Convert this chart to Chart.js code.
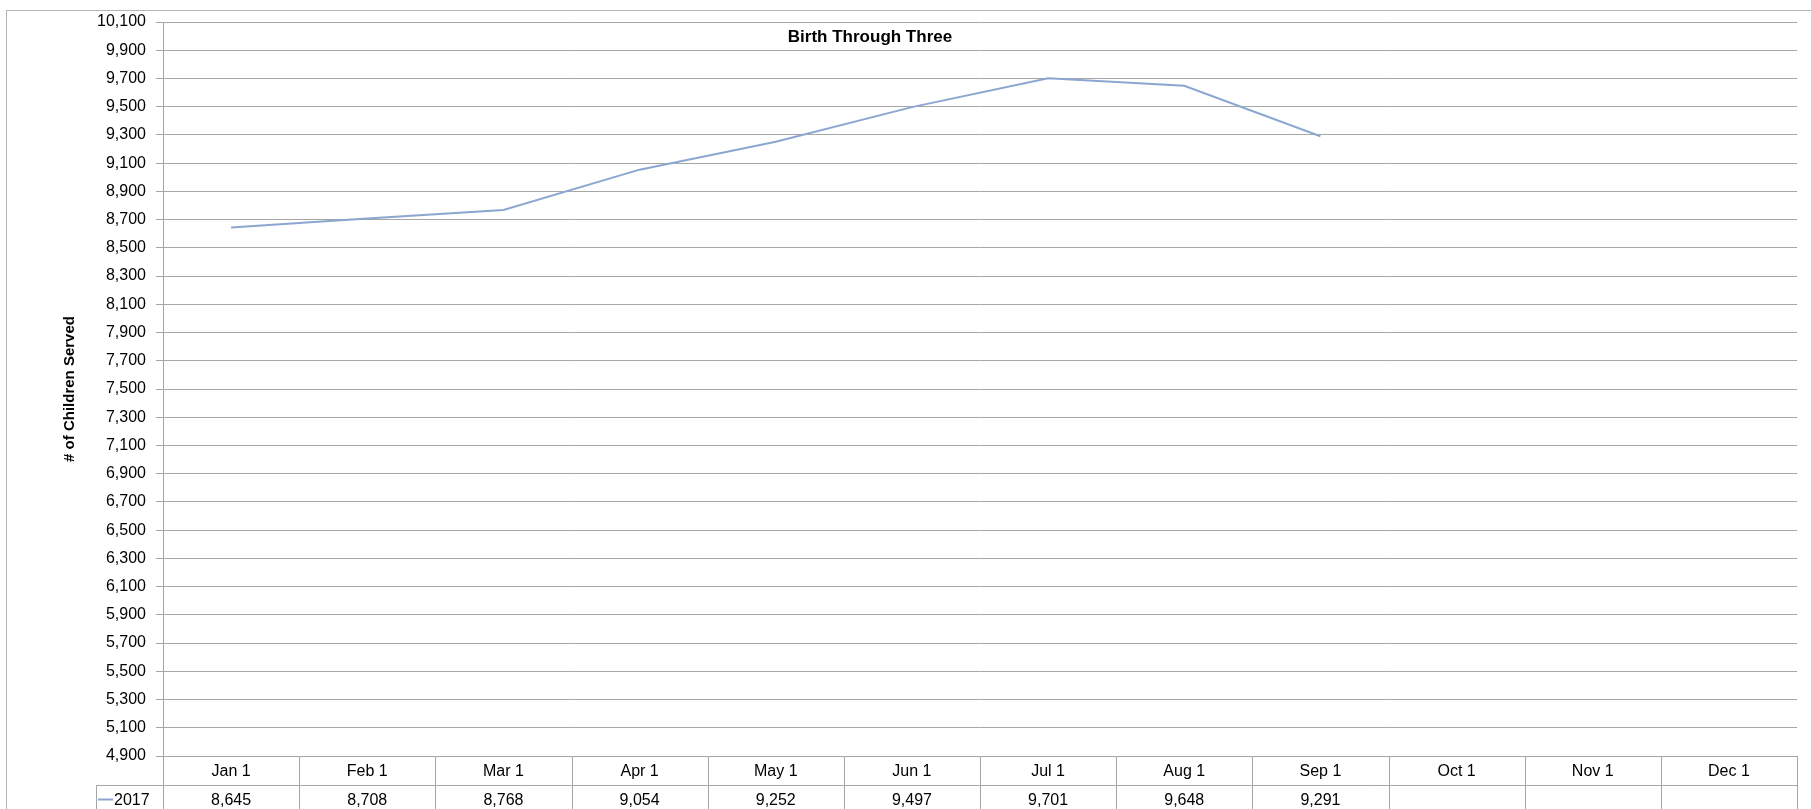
<!DOCTYPE html>
<html>
<head>
<meta charset="utf-8">
<script src="https://cdn.jsdelivr.net/npm/chart.js@4/dist/chart.umd.min.js"></script>
<style>
  body { margin: 0; background: #fff; }
  canvas { display: block; }
</style>
</head>
<body>
<canvas id="graphCanvas" width="1811" height="809"></canvas>
<script>
// chart data
var months = ['Jan 1', 'Feb 1', 'Mar 1', 'Apr 1', 'May 1', 'Jun 1', 'Jul 1', 'Aug 1', 'Sep 1', 'Oct 1', 'Nov 1', 'Dec 1'];
var served2017 = [8645, 8708, 8768, 9054, 9252, 9497, 9701, 9648, 9291, null, null, null];
var seriesName = '2017';
var chartTitle = 'Birth Through Three';
var yTitle = '# of Children Served';
var yMin = 4900, yMax = 10100, yStep = 200;

var lineColor = '#8ba7d0';
var gridColor = '#a6a6a6';
var fontName = '"Liberation Sans", Arial, sans-serif';

function fmt(v) {
  return Number(v).toLocaleString('en-US');
}

// draws the frame, title, axis title and the data table under the plot
var extrasPlugin = {
  id: 'extras',
  beforeDraw: function (chart) {
    var ctx = chart.ctx;
    ctx.save();
    ctx.fillStyle = '#fff';
    ctx.fillRect(0, 0, chart.width, chart.height);
    ctx.strokeStyle = '#b5b5b5';
    ctx.lineWidth = 1;
    ctx.strokeRect(6.5, 10.5, chart.width + 20, chart.height + 20);
    ctx.restore();
  },
  afterDraw: function (chart) {
    var ctx = chart.ctx;
    var area = chart.chartArea;
    var xs = chart.scales.x;
    var top = Math.round(area.bottom);
    var rowH = 29;
    ctx.save();

    // title
    ctx.fillStyle = '#000';
    ctx.font = 'bold 17px ' + fontName;
    ctx.textAlign = 'center';
    ctx.textBaseline = 'middle';
    ctx.fillText(chartTitle, 870, 37);

    // y axis title
    ctx.save();
    ctx.translate(70, (area.top + area.bottom) / 2);
    ctx.rotate(-Math.PI / 2);
    ctx.font = 'bold 15px ' + fontName;
    ctx.fillText(yTitle, 0, 0);
    ctx.restore();

    // table grid
    var left = Math.round(area.left) + 0.5;
    var right = Math.round(area.right) + 0.5;
    var legendLeft = 96.5;
    ctx.strokeStyle = gridColor;
    ctx.lineWidth = 1;
    ctx.beginPath();
    ctx.moveTo(left, top + 0.5); ctx.lineTo(right, top + 0.5);
    ctx.moveTo(legendLeft, top + rowH + 0.5); ctx.lineTo(right, top + rowH + 0.5);
    ctx.moveTo(legendLeft, top + 2 * rowH + 0.5); ctx.lineTo(right, top + 2 * rowH + 0.5);
    ctx.moveTo(legendLeft, top + rowH); ctx.lineTo(legendLeft, top + 2 * rowH);
    ctx.moveTo(left, top); ctx.lineTo(left, top + 2 * rowH);
    for (var i = 0; i < months.length; i++) {
      var edge;
      if (i < months.length - 1) {
        edge = Math.round((xs.getPixelForValue(i) + xs.getPixelForValue(i + 1)) / 2) + 0.5;
      } else {
        edge = right;
      }
      ctx.moveTo(edge, top); ctx.lineTo(edge, top + 2 * rowH);
    }
    ctx.stroke();

    // table text
    ctx.fillStyle = '#000';
    ctx.font = '16px ' + fontName;
    ctx.textAlign = 'center';
    for (var j = 0; j < months.length; j++) {
      var cx = xs.getPixelForValue(j);
      ctx.fillText(months[j], cx, top + rowH / 2 + 1);
      if (served2017[j] != null) {
        ctx.fillText(fmt(served2017[j]), cx, top + rowH * 1.5 + 1);
      }
    }

    // legend key
    ctx.strokeStyle = lineColor;
    ctx.lineWidth = 2;
    ctx.beginPath();
    ctx.moveTo(98, top + rowH * 1.5);
    ctx.lineTo(113, top + rowH * 1.5);
    ctx.stroke();
    ctx.textAlign = 'left';
    ctx.fillText(seriesName, 114, top + rowH * 1.5 + 1);

    ctx.restore();
  }
};

var chartdata = {
  labels: months,
  datasets: [
    {
      label: seriesName,
      data: served2017,
      borderColor: lineColor,
      backgroundColor: lineColor,
      borderWidth: 2,
      pointRadius: 0,
      fill: false,
      tension: 0,
      spanGaps: false
    }
  ]
};

window.bar = new Chart(document.getElementById('graphCanvas'), {
  type: 'line',
  data: chartdata,
  plugins: [extrasPlugin],
  options: {
    responsive: false,
    animation: false,
    layout: { padding: { top: 22, right: 14, bottom: 0, left: 0 } },
    plugins: {
      legend: { display: false },
      title: { display: false },
      tooltip: { enabled: false }
    },
    scales: {
      x: {
        type: 'category',
        offset: true,
        grid: { display: false },
        border: { display: false },
        ticks: { display: false },
        afterFit: function (scale) { scale.height = 53; }
      },
      y: {
        min: yMin,
        max: yMax,
        ticks: {
          stepSize: yStep,
          autoSkip: false,
          padding: 10,
          color: '#000',
          font: { family: fontName, size: 16 },
          callback: function (v) { return fmt(v); }
        },
        grid: {
          color: gridColor,
          tickLength: 7,
          drawTicks: true
        },
        border: { color: gridColor },
        afterFit: function (scale) { scale.width = 163; }
      }
    }
  }
});
</script>
</body>
</html>
